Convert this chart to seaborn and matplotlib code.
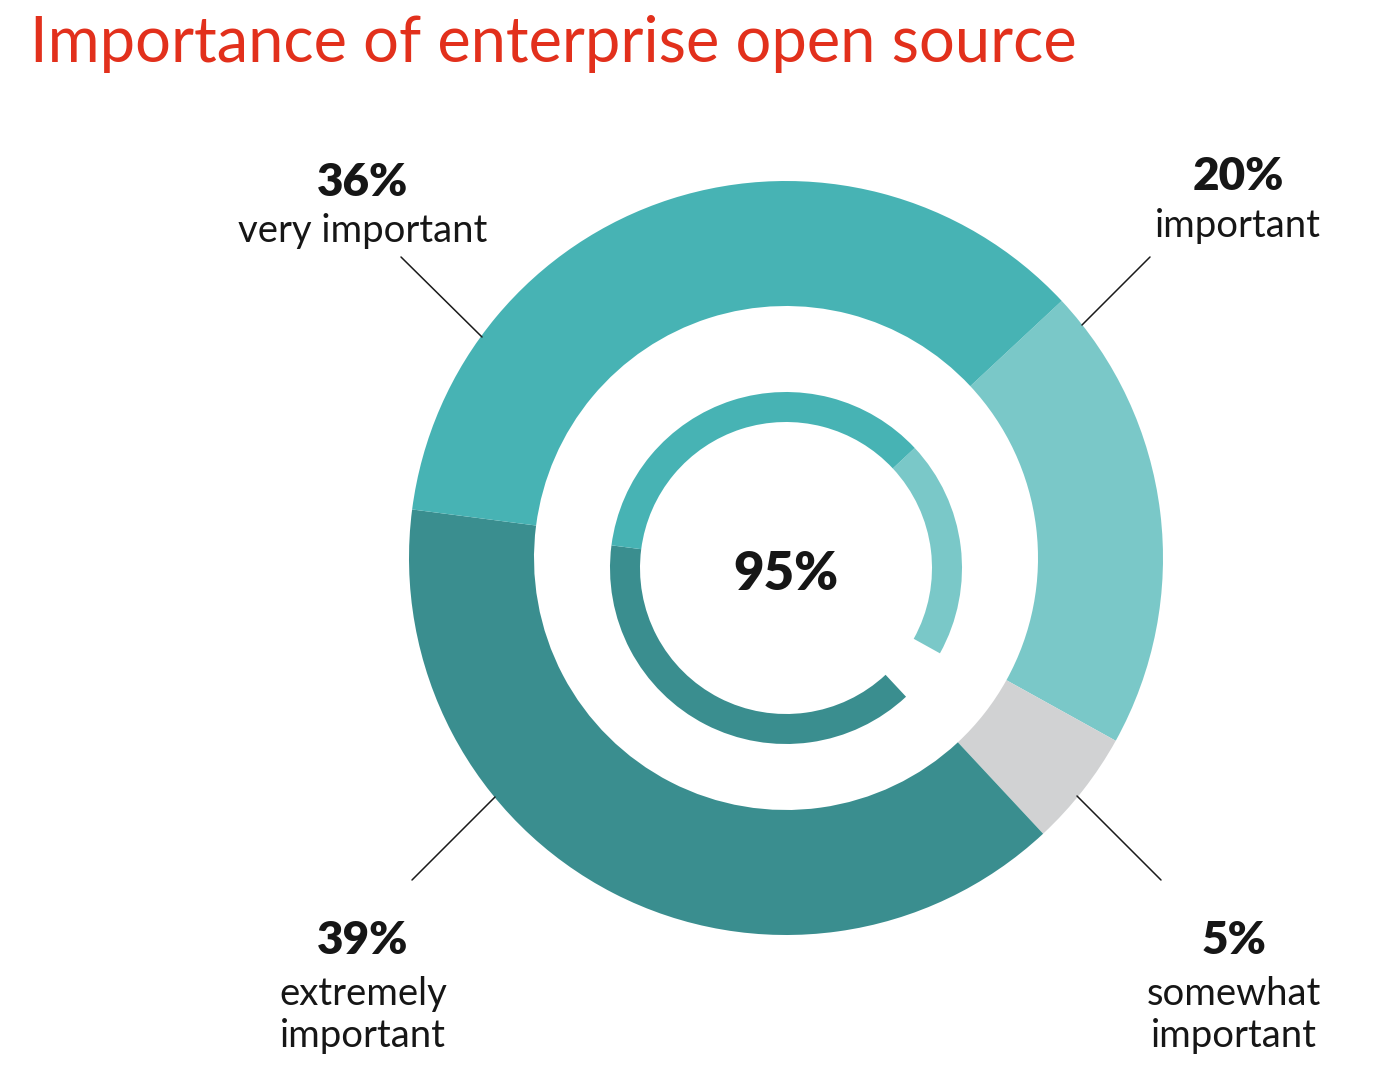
import matplotlib
matplotlib.use("Agg")
import matplotlib.pyplot as plt
import seaborn as sns

# survey shares, clockwise from the upper right
categories = ["important", "somewhat\nimportant", "extremely\nimportant", "very important"]
shares = [20, 5, 39, 36]
pct_labels = ["20%", "5%", "39%", "36%"]
center_label = "95%"
title = "Importance of enterprise open source"

colors = ["#7AC8C8", "#D1D2D3", "#3A8E8F", "#47B3B4"]
inner_colors = ["#7AC8C8", "none", "#3A8E8F", "#47B3B4"]

sns.set_theme(style="white")
plt.rcParams["font.family"] = ["Lato", "DejaVu Sans"]

W, H = 1400, 1081
fig = plt.figure(figsize=(14, 10.81), dpi=100)
ax = fig.add_axes([0, 0, 1, 1])


def py(y):
    # pixel row -> data y
    return H - y


# outer donut
ax.pie(shares, colors=colors, startangle=43, counterclock=False,
       radius=377, center=(786, py(558)),
       wedgeprops=dict(width=125, edgecolor="none", linewidth=0))

# inner ring, the "somewhat" slice left empty
ax.pie(shares, colors=inner_colors, startangle=43, counterclock=False,
       radius=176, center=(786, py(568)),
       wedgeprops=dict(width=30, edgecolor="none", linewidth=0))

ax.set_xlim(0, W)
ax.set_ylim(0, H)
ax.set_aspect("equal")
ax.axis("off")

txt = "#161616"
ax.text(30, py(62), title, color="#E2301C", fontsize=45.5, ha="left", va="baseline")
ax.text(786, py(575), center_label, color=txt, fontsize=38, fontweight="heavy",
        ha="center", va="center")

# label blocks: (x, pct y, baseline of last name line, leader line)
label_pos = {
    "very important": (363, 182, 242, [(401, 257), (482, 337)]),
    "important": (1238, 176, 237, [(1150, 257), (1082, 325)]),
    "extremely\nimportant": (363, 940, 1047, [(412, 880), (495, 797)]),
    "somewhat\nimportant": (1234, 940, 1047, [(1161, 880), (1077, 796)]),
}

for cat, pct in zip(categories, pct_labels):
    x, y_pct, y_name, line = label_pos[cat]
    ax.text(x, py(y_pct), pct, color=txt, fontsize=33, fontweight="heavy",
            ha="center", va="center")
    ax.text(x, py(y_name), cat, color=txt, fontsize=27.5, ha="center",
            va="baseline", linespacing=1.2)
    (x0, y0), (x1, y1) = line
    ax.plot([x0, x1], [py(y0), py(y1)], color="#1a1a1a", lw=1.1)

fig.savefig("out.png", dpi=100, facecolor="white")
